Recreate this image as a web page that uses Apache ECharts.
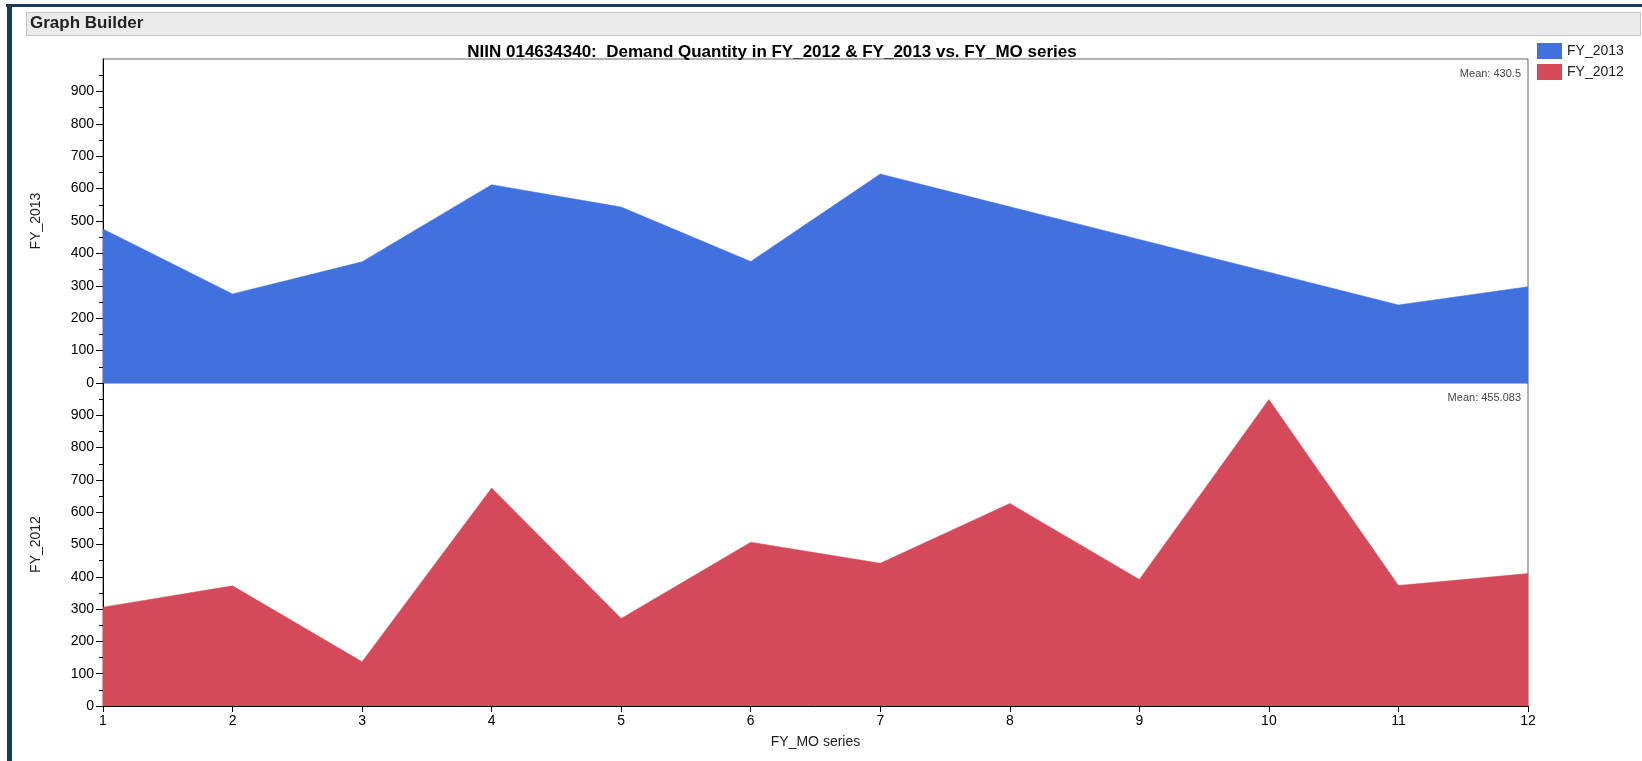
<!DOCTYPE html>
<html>
<head>
<meta charset="utf-8">
<script src="https://cdn.jsdelivr.net/npm/echarts@6/dist/echarts.min.js"></script>
<style>
html,body{margin:0;padding:0;background:#fff;}
#chart{width:1642px;height:761px;}
</style>
</head>
<body>
<div id="chart"></div>
<script>
// ---- data ----
const months = ['1','2','3','4','5','6','7','8','9','10','11','12'];
const fy2013 = [475, 275, 374, 612, 543, 375, 645, 544, 443, 342, 241, 297];
const fy2012 = [306, 372, 137, 675, 271, 507, 442, 627, 392, 949, 373, 410];
const yTickValues = [0, 100, 200, 300, 400, 500, 600, 700, 800, 900];
const seriesNames = ['FY_2013', 'FY_2012'];
const meanLabels = ['Mean: 430.5', 'Mean: 455.083'];
const titleText = 'NIIN 014634340:  Demand Quantity in FY_2012 & FY_2013 vs. FY_MO series';
const headerText = 'Graph Builder';
const xAxisTitle = 'FY_MO series';

const FONT = '"Liberation Sans", Arial, sans-serif';
const BLUE = '#4171df';
const RED = '#d44a5a';

const chart = echarts.init(document.getElementById('chart'), null, {renderer: 'canvas'});

function yAxisDef(gridIndex, name) {
  return {
    type: 'value', gridIndex: gridIndex, min: 0, max: 1000, interval: 100,
    name: name, nameLocation: 'middle', nameGap: 60,
    nameTextStyle: {fontFamily: FONT, fontSize: 14, color: '#222'},
    axisLine: {show: true, lineStyle: {color: '#000', width: 1}},
    axisTick: {show: true, length: 7, customValues: yTickValues, lineStyle: {color: '#000'}},
    minorTick: {show: true, splitNumber: 2, length: 4, lineStyle: {color: '#000'}},
    splitLine: {show: false},
    axisLabel: {
      showMaxLabel: true, showMinLabel: true, margin: 9, fontFamily: FONT, fontSize: 14, color: '#000',
      customValues: yTickValues
    }
  };
}

const option = {
  animation: false,
  backgroundColor: '#fff',
  title: [
    {text: titleText, left: 767, top: 39, textAlign: 'center',
     textStyle: {fontFamily: FONT, fontSize: 17, fontWeight: 'bold', color: '#000'}},
  ],
  legend: {
    orient: 'vertical', left: 1532, top: 38, itemWidth: 25, itemHeight: 16, itemGap: 5,
    icon: 'rect', data: seriesNames,
    textStyle: {fontFamily: FONT, fontSize: 14, color: '#222'}
  },
  grid: [
    {left: 103, top: 59, width: 1425, height: 324, show: true, borderColor: '#666', borderWidth: 1, backgroundColor: '#fff'},
    {left: 103, top: 383, width: 1425, height: 323, show: true, borderColor: '#666', borderWidth: 1, backgroundColor: '#fff'}
  ],
  xAxis: [
    {type: 'category', gridIndex: 0, data: months, boundaryGap: false,
     axisLine: {show: false}, axisTick: {show: false}, axisLabel: {show: false}, splitLine: {show: false}},
    {type: 'category', gridIndex: 1, data: months, boundaryGap: false,
     name: xAxisTitle, nameLocation: 'middle', nameGap: 29,
     nameTextStyle: {fontFamily: FONT, fontSize: 14, color: '#222'},
     axisLine: {show: true, lineStyle: {color: '#000', width: 1}},
     axisTick: {show: true, length: 6, alignWithLabel: true, lineStyle: {color: '#000'}},
     axisLabel: {margin: 8, fontFamily: FONT, fontSize: 14, color: '#000'},
     splitLine: {show: false}}
  ],
  yAxis: [yAxisDef(0, 'FY_2013'), yAxisDef(1, 'FY_2012')],
  series: [
    {name: seriesNames[0], type: 'line', xAxisIndex: 0, yAxisIndex: 0, data: fy2013,
     showSymbol: false, symbol: 'none', color: BLUE,
     lineStyle: {width: 0.5, color: BLUE}, areaStyle: {color: BLUE, opacity: 1}},
    {name: seriesNames[1], type: 'line', xAxisIndex: 1, yAxisIndex: 1, data: fy2012,
     showSymbol: false, symbol: 'none', color: RED,
     lineStyle: {width: 0.5, color: RED}, areaStyle: {color: RED, opacity: 1}}
  ],
  graphic: [
    // outer dark frame
    {type: 'rect', left: 6, top: 4, shape: {width: 1636, height: 3}, style: {fill: '#1b3a5e'}, silent: true},
    {type: 'rect', left: 7, top: 4, shape: {width: 5, height: 757}, style: {fill: '#1b3a5e'}, silent: true},
    // header bar
    {type: 'rect', left: 26, top: 12, shape: {width: 1614, height: 23}, style: {fill: '#ebebeb', stroke: '#c4c4c4', lineWidth: 1}, silent: true},
    {type: 'text', left: 30, top: 15, style: {text: headerText, fontFamily: FONT, fontSize: 17, fontWeight: 'bold', fill: '#222'}, silent: true},
    // mean labels
    {type: 'text', right: 1642 - 1521, top: 68, style: {text: meanLabels[0], fontFamily: FONT, fontSize: 11, fill: '#444', textAlign: 'right'}, silent: true, z: 100},
    {type: 'text', right: 1642 - 1521, top: 392, style: {text: meanLabels[1], fontFamily: FONT, fontSize: 11, fill: '#444', textAlign: 'right'}, silent: true, z: 100}
  ]
};
chart.setOption(option);
</script>
</body>
</html>
